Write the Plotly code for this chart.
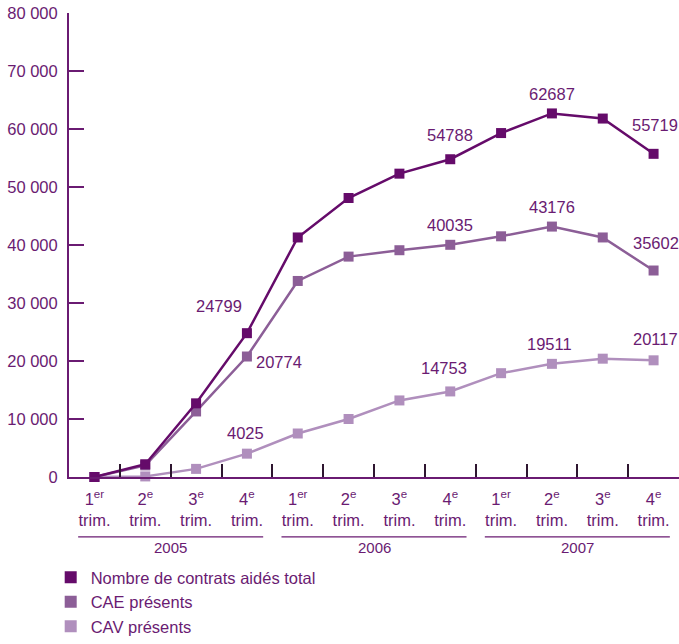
import plotly.graph_objects as go

quarters = ["1<sup>er</sup><br>trim.", "2<sup>e</sup><br>trim.", "3<sup>e</sup><br>trim.", "4<sup>e</sup><br>trim."] * 3
years = ["2005", "2006", "2007"]
total = [0, 2200, 12700, 24799, 41300, 48100, 52300, 54788, 59300, 62687, 61800, 55719]
cae = [0, 2000, 11300, 20774, 33800, 38000, 39100, 40035, 41500, 43176, 41300, 35602]
cav = [0, 100, 1400, 4025, 7500, 10000, 13200, 14753, 17900, 19511, 20400, 20117]
series_names = ["Nombre de contrats aidés total", "CAE présents", "CAV présents"]
y_ticks = [0, 10000, 20000, 30000, 40000, 50000, 60000, 70000, 80000]
y_ticktext = ["0", "10 000", "20 000", "30 000", "40 000", "50 000", "60 000", "70 000", "80 000"]

# labelled points: (series index, point index, dx px, dy px)
labels = [
    (0, 3, -28, -27), (0, 7, 0, -24), (0, 9, 0, -19), (0, 11, 1, -29),
    (1, 3, 32, 5), (1, 7, 0, -20), (1, 9, 0, -20), (1, 11, 2, -28),
    (2, 3, -1, -21), (2, 7, -6, -23), (2, 9, -2, -20), (2, 11, 2, -21),
]

colors = ["#650b6a", "#8c5e97", "#b08fbd"]
text_color = "#6a1b72"
font_family = "Liberation Sans, Arial, sans-serif"
fs = 16.5

x = list(range(len(total)))
data = [total, cae, cav]

fig = go.Figure()
for vals, col, name in zip(data[::-1], colors[::-1], series_names[::-1]):
    fig.add_trace(go.Scatter(
        x=x, y=vals, mode="lines+markers", name=name, showlegend=False,
        line=dict(color=col, width=2.5),
        marker=dict(symbol="square", size=10, color=col),
        cliponaxis=False,
    ))
for col, name in zip(colors, series_names):
    fig.add_trace(go.Scatter(
        x=[None], y=[None], mode="markers", name=name,
        marker=dict(symbol="square", size=11, color=col),
    ))

for s, i, dx, dy in labels:
    v = data[s][i]
    fig.add_annotation(x=x[i], y=v, text=str(v), showarrow=False,
                       xshift=dx, yshift=-dy,
                       font=dict(size=fs, color=text_color, family=font_family))

# year groups
for g, yr in enumerate(years):
    start = g * 4
    fig.add_shape(type="line", xref="x", yref="paper",
                  x0=start - 0.32, x1=start + 3.32, y0=-0.129, y1=-0.129,
                  line=dict(color=text_color, width=1.2))
    fig.add_annotation(x=start + 1.5, y=-0.152, xref="x", yref="paper",
                       text=yr, showarrow=False, yanchor="middle",
                       font=dict(size=fs - 1.5, color=text_color, family=font_family))

fig.update_layout(
    width=679, height=644,
    margin=dict(l=69, r=0, t=13, b=166),
    plot_bgcolor="white", paper_bgcolor="white",
    font=dict(family=font_family, size=fs, color=text_color),
    showlegend=True,
    legend=dict(x=-0.03, y=-0.18, xanchor="left", yanchor="top",
                font=dict(size=fs, color=text_color, family=font_family),
                bgcolor="rgba(0,0,0,0)", tracegroupgap=0, itemsizing="constant"),
    xaxis=dict(
        range=[-0.5, 11.5], tickmode="array", tickvals=x, ticktext=quarters,
        showline=True, linecolor=text_color, linewidth=2,
        ticks="", showgrid=False, zeroline=False,
        tickfont=dict(size=fs, color=text_color), ticklabelstandoff=6,
    ),
    xaxis2=dict(
        range=[-0.5, 11.5], overlaying="x", side="bottom",
        tickmode="linear", tick0=-0.5, dtick=1,
        ticks="inside", ticklen=13, tickwidth=1.5, tickcolor="#2e1630",
        showticklabels=False, showgrid=False, zeroline=False, showline=False,
    ),
    yaxis=dict(
        range=[0, 80000], tickmode="array", tickvals=y_ticks, ticktext=y_ticktext,
        showline=True, linecolor=text_color, linewidth=2,
        ticks="inside", ticklen=15, tickwidth=2, tickcolor=text_color,
        showgrid=False, zeroline=False, ticklabelstandoff=6,
        tickfont=dict(size=fs, color=text_color),
    ),
)
fig.add_trace(go.Scatter(x=[None], y=[None], xaxis="x2", showlegend=False, hoverinfo="skip"))

fig.write_html("out.html")
